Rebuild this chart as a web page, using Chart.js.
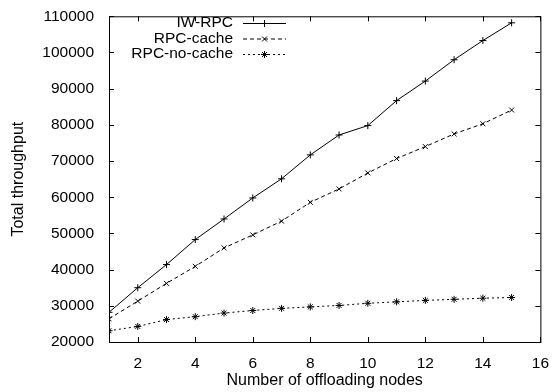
<!DOCTYPE html>
<html>
<head>
<meta charset="utf-8">
<script src="https://cdn.jsdelivr.net/npm/chart.js@4/dist/chart.umd.min.js"></script>
<style>
  html, body { margin: 0; padding: 0; background: #fff; }
  #wrap { width: 553px; height: 392px; }
</style>
</head>
<body>
<div id="wrap"><canvas id="chart" width="553" height="392"></canvas></div>
<script>
// nodes on the x axis
const nodes = [1, 2, 3, 4, 5, 6, 7, 8, 9, 10, 11, 12, 13, 14, 15];
// throughput series
const iwRpc = [28200, 35000, 41400, 48300, 54000, 59800, 65100, 71700, 77200, 79800, 86700, 92100, 98000, 103300, 108200];
const rpcCache = [26400, 31300, 36200, 40900, 46000, 49600, 53400, 58600, 62300, 66700, 70700, 74000, 77500, 80300, 84100];
const rpcNoCache = [23100, 24300, 26200, 27000, 28000, 28700, 29300, 29700, 30100, 30700, 31100, 31500, 31800, 32100, 32300];
const xTicks = [2, 4, 6, 8, 10, 12, 14, 16];
const yTicks = [20000, 30000, 40000, 50000, 60000, 70000, 80000, 90000, 100000, 110000];

const seriesNames = ['IW-RPC', 'RPC-cache', 'RPC-no-cache'];
const dashes = [[], [4, 3], [2, 3]];
const marks = ['cross', 'crossRot', 'star'];
const FONT = 'Liberation Sans, Arial, Helvetica, sans-serif';
const FS = 15.5;

function toPoints(arr) {
  return arr.map((v, i) => ({ x: nodes[i], y: v }));
}

// frame, inward ticks and the gnuplot-style key
const gnuplotFrame = {
  id: 'gnuplotFrame',
  afterDraw(chart) {
    const { ctx, chartArea: a, scales } = chart;
    ctx.save();
    ctx.strokeStyle = '#000';
    ctx.lineWidth = 1;
    ctx.setLineDash([]);
    ctx.strokeRect(a.left + 0.5, a.top + 0.5, a.right - a.left, a.bottom - a.top);
    const t = 5;
    ctx.beginPath();
    xTicks.forEach(v => {
      const px = Math.round(scales.x.getPixelForValue(v)) + 0.5;
      ctx.moveTo(px, a.bottom); ctx.lineTo(px, a.bottom - t);
      ctx.moveTo(px, a.top); ctx.lineTo(px, a.top + t);
    });
    yTicks.forEach(v => {
      const py = Math.round(scales.y.getPixelForValue(v)) + 0.5;
      ctx.moveTo(a.left, py); ctx.lineTo(a.left + t, py);
      ctx.moveTo(a.right, py); ctx.lineTo(a.right - t, py);
    });
    ctx.stroke();

    // key
    ctx.font = FS + 'px ' + FONT;
    ctx.fillStyle = '#000';
    ctx.textAlign = 'right';
    ctx.textBaseline = 'middle';
    const rows = [23, 38.5, 54];
    chart.data.datasets.forEach((ds, i) => {
      const y = rows[i];
      ctx.fillText(ds.label, 233, y);
      ctx.beginPath();
      ctx.setLineDash(dashes[i]);
      ctx.moveTo(243, y + 0.5);
      ctx.lineTo(286, y + 0.5);
      ctx.stroke();
      ctx.setLineDash([]);
      Chart.helpers.drawPoint(ctx, { pointStyle: marks[i], radius: 3.5, borderWidth: 1 }, 264.5, y + 0.5);
    });
    ctx.restore();
  }
};

const datasets = [iwRpc, rpcCache, rpcNoCache].map((arr, i) => ({
  label: seriesNames[i],
  data: toPoints(arr),
  borderColor: '#000',
  backgroundColor: '#000',
  borderWidth: 1,
  borderDash: dashes[i],
  pointStyle: marks[i],
  pointRadius: 3.5,
  pointBorderWidth: 1,
  pointBorderColor: '#000',
  fill: false,
  tension: 0
}));

new Chart(document.getElementById('chart'), {
  type: 'line',
  data: { datasets },
  plugins: [gnuplotFrame],
  options: {
    responsive: false,
    animation: false,
    devicePixelRatio: 1,
    layout: { padding: { left: 0, right: 11, top: 12, bottom: 0 } },
    plugins: {
      legend: { display: false },
      tooltip: { enabled: false }
    },
    scales: {
      x: {
        type: 'linear',
        min: 1,
        max: 16,
        afterBuildTicks: s => { s.ticks = xTicks.map(v => ({ value: v })); },
        afterFit: s => { s.height = 50; },
        grid: { display: false },
        border: { display: false },
        ticks: { color: '#000', font: { family: FONT, size: FS }, padding: 4, maxRotation: 0 },
        title: { display: true, text: 'Number of offloading nodes', color: '#000', font: { family: FONT, size: 16 }, padding: { top: 0, bottom: 2 } }
      },
      y: {
        min: 20000,
        max: 110000,
        afterBuildTicks: s => { s.ticks = yTicks.map(v => ({ value: v })); },
        afterFit: s => { s.width = 109; },
        grid: { display: false },
        border: { display: false },
        ticks: { color: '#000', font: { family: FONT, size: FS }, padding: 7, callback: v => String(v) },
        title: { display: true, text: 'Total throughput', color: '#000', font: { family: FONT, size: 16 }, padding: { top: 9, bottom: 0 } }
      }
    }
  }
});
</script>
</body>
</html>
